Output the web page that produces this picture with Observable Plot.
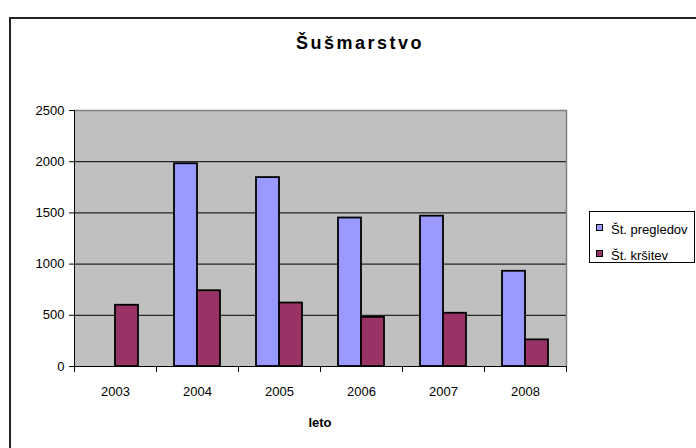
<!DOCTYPE html>
<html>
<head>
<meta charset="utf-8">
<script src="https://cdn.jsdelivr.net/npm/d3@7"></script>
<script src="https://cdn.jsdelivr.net/npm/@observablehq/plot@0.6"></script>
<style>
  body { margin: 0; background: #fff; font-family: "Liberation Sans", Arial, sans-serif; }
  #wrap { position: relative; width: 696px; height: 448px; overflow: hidden; background: #fff; }
  #border { position: absolute; left: 9px; top: 17px; width: 800px; height: 600px; border: 2px solid #222; box-sizing: border-box; }
  #chart { position: absolute; left: 0; top: 0; }
  #title { position: absolute; left: 0; width: 720px; top: 33px; line-height: 20px; text-align: center; font-weight: bold; font-size: 18px; letter-spacing: 2.5px; color: #000; }
  #xlabel { position: absolute; left: 0; width: 640px; top: 415px; line-height: 15px; text-align: center; font-weight: bold; font-size: 13px; color: #000; }
  #legend { position: absolute; left: 589px; top: 211px; width: 106px; height: 52px; border: 1px solid #000; box-sizing: border-box; background: #fff; }
  .sw { position: absolute; left: 6px; width: 7px; height: 7px; border: 1px solid #000; box-sizing: border-box; }
  .lt { position: absolute; left: 21px; font-size: 13px; line-height: 15px; white-space: nowrap; color: #000; }
</style>
</head>
<body>
<div id="wrap">
  <div id="border"></div>
  <div id="chart"></div>
  <div id="title">Šušmarstvo</div>
  <div id="xlabel">leto</div>
  <div id="legend"></div>
</div>
<script>
const years = ["2003", "2004", "2005", "2006", "2007", "2008"];
const series = ["Št. pregledov", "Št. kršitev"];
const pregledov = [null, 1980, 1845, 1450, 1468, 930];
const krsitev = [598, 740, 620, 480, 520, 260];
const colors = ["#9999FF", "#993366"];
const yTicks = [0, 500, 1000, 1500, 2000, 2500];
const gridTicks = [500, 1000, 1500, 2000];

const rows = [];
years.forEach((yr, i) => {
  if (pregledov[i] != null) rows.push({year: yr, series: series[0], value: pregledov[i]});
  if (krsitev[i] != null) rows.push({year: yr, series: series[1], value: krsitev[i]});
});

const tickShape = {draw(context, l) { context.moveTo(0, 0); context.lineTo(0, -l); }};

const chart = Plot.plot({
  width: 696,
  height: 448,
  marginLeft: 73,
  marginRight: 129,
  marginTop: 110,
  marginBottom: 82,
  style: {fontFamily: "'Liberation Sans', Arial, sans-serif", fontSize: "13px", color: "#000", background: "transparent"},
  fx: {domain: years, padding: 0, label: null},
  x: {domain: series, paddingInner: 0, paddingOuter: 0.736, axis: null},
  y: {domain: [0, 2500], axis: null},
  color: {domain: series, range: colors},
  marks: [
    Plot.frame({fill: "#C0C0C0", shapeRendering: "crispEdges"}),
    Plot.ruleY(gridTicks, {stroke: "#000", strokeWidth: 1}),
    Plot.ruleY([2500], {stroke: "#808080", strokeWidth: 1.5}),
    Plot.frame({anchor: "right", stroke: "#808080", strokeWidth: 1.5, facetAnchor: "right"}),
    Plot.barY(rows, {fx: "year", x: "series", y: "value", fill: "series", stroke: "#000", strokeWidth: 1.8}),
    Plot.ruleY([0], {stroke: "#000", strokeWidth: 1}),
    Plot.frame({anchor: "left", stroke: "#000", strokeWidth: 1, facetAnchor: "left"}),
    Plot.vector([0], {frameAnchor: "bottom-left", length: 5, rotate: 180, anchor: "start", shape: tickShape, stroke: "#000", strokeWidth: 1}),
    Plot.vector([0], {frameAnchor: "bottom-right", length: 5, rotate: 180, anchor: "start", shape: tickShape, stroke: "#000", strokeWidth: 1}),
    Plot.axisY({ticks: yTicks, tickFormat: d => String(d), tickSize: 5, tickPadding: 5, label: null, stroke: "#000"}),
    Plot.axisFx({anchor: "bottom", tickSize: 0, tickPadding: 20, label: null})
  ]
});
document.getElementById("chart").appendChild(chart);

const legend = document.getElementById("legend");
const swTops = [12, 38];
const txtTops = [10, 36];
series.forEach((s, i) => {
  const sw = document.createElement("div");
  sw.className = "sw";
  sw.style.top = swTops[i] + "px";
  sw.style.background = colors[i];
  legend.appendChild(sw);
  const t = document.createElement("div");
  t.className = "lt";
  t.style.top = txtTops[i] + "px";
  t.textContent = s;
  legend.appendChild(t);
});
</script>
</body>
</html>
